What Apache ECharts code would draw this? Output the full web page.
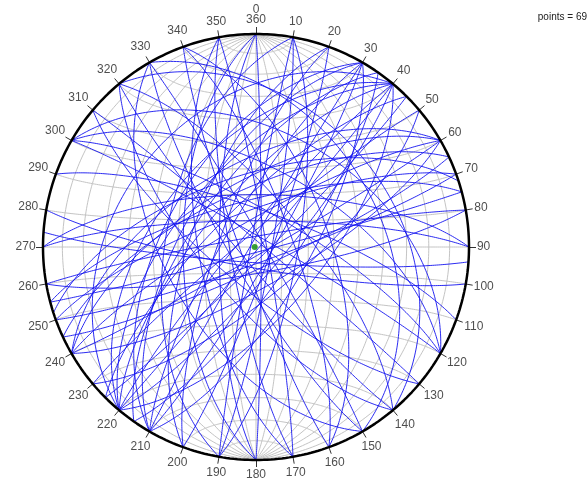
<!DOCTYPE html>
<html>
<head>
<meta charset="utf-8">
<script src="https://cdn.jsdelivr.net/npm/echarts@6/dist/echarts.min.js"></script>
<style>
  html, body { margin: 0; padding: 0; background: #fff; }
  #chart { width: 587px; height: 503px; }
</style>
</head>
<body>
<div id="chart"></div>
<script>
// Planes measured as strike / dip (right-hand rule: dip direction = strike + 90)
const strikes = [30, 30, 210, 210, 210, 210, 35, 215, 40, 40, 40, 220, 220, 220, 220, 220,
  45, 225, 50, 230, 60, 60, 240, 240, 240, 65, 245,
  70, 250, 252, 75, 255, 80, 260, 94, 270, 270,
  100, 290, 300, 300, 300, 300, 130, 310, 140, 320, 320, 140,
  150, 330, 150, 330, 160, 340, 340,
  170, 350, 170, 0, 180, 180, 10, 190, 10, 190, 20, 200, 200];
const dips = [84, 70, 78, 55, 62, 88, 76, 66, 89, 80, 65, 84, 70, 52, 35, 60,
  86, 74, 72, 85, 87, 75, 80, 58, 65, 82, 68,
  84, 76, 62, 88, 72, 80, 86, 84, 80, 70,
  82, 76, 76, 86, 60, 45, 75, 88, 84, 72, 35, 70,
  80, 87, 55, 41, 84, 76, 62,
  80, 86, 68, 88, 76, 62, 84, 88, 74, 55, 84, 76, 65];

// Mean pole of the set (trend, plunge)
const meanPole = { trend: 270, plunge: 89.5 };

// Azimuth labels around the primitive circle
const azimuths = [0, 10, 20, 30, 40, 50, 60, 70, 80, 90, 100, 110, 120, 130, 140, 150, 160, 170,
  180, 190, 200, 210, 220, 230, 240, 250, 260, 270, 280, 290, 300, 310, 320, 330, 340, 350];
const azimuthLabels = ['360', '10', '20', '30', '40', '50', '60', '70', '80', '90', '100', '110',
  '120', '130', '140', '150', '160', '170', '180', '190', '200', '210', '220', '230', '240',
  '250', '260', '270', '280', '290', '300', '310', '320', '330', '340', '350'];
const northLabel = '0';
const countLabel = 'points = ' + strikes.length;

// Geometry of the net on the page
const CX = 256, CY = 247, RAD = 213, SPAN = 1.15;
const D2R = Math.PI / 180;

// Lower-hemisphere equal-area (Schmidt) projection of a line
function projectLine(trend, plunge) {
  const r = Math.SQRT2 * Math.sin((90 - plunge) / 2 * D2R);
  return [r * Math.sin(trend * D2R), r * Math.cos(trend * D2R)];
}
// Project a unit vector given in (north, east, down)
function projectVec(n, e, d) {
  if (d < 0) { n = -n; e = -e; d = -d; }
  const plunge = Math.asin(Math.min(1, d)) / D2R;
  const trend = Math.atan2(e, n) / D2R;
  return projectLine(trend, plunge);
}
function greatCircle(strike, dip) {
  const s = strike * D2R, dd = (strike + 90) * D2R, dp = dip * D2R;
  const sv = [Math.cos(s), Math.sin(s), 0];
  const dv = [Math.cos(dd) * Math.cos(dp), Math.sin(dd) * Math.cos(dp), Math.sin(dp)];
  const pts = [];
  for (let a = 0; a <= 180; a += 1) {
    const c = Math.cos(a * D2R), sn = Math.sin(a * D2R);
    pts.push(projectVec(c * sv[0] + sn * dv[0], c * sv[1] + sn * dv[1], c * sv[2] + sn * dv[2]));
  }
  return pts;
}
// Small circle about a horizontal axis (trend axisTrend) with half-angle alpha
function smallCircle(axisTrend, alpha) {
  const t = axisTrend * D2R, al = alpha * D2R;
  const ax = [Math.cos(t), Math.sin(t), 0];
  const b1 = [-Math.sin(t), Math.cos(t), 0];
  const b2 = [0, 0, 1];
  const pts = [];
  for (let f = 0; f <= 180; f += 1) {
    const cf = Math.cos(f * D2R), sf = Math.sin(f * D2R);
    const v = [0, 1, 2].map(i => Math.cos(al) * ax[i] + Math.sin(al) * (cf * b1[i] + sf * b2[i]));
    pts.push(projectVec(v[0], v[1], Math.max(0, v[2])));
  }
  return pts;
}

// Net: meridians and parallels every 10 degrees
const netLines = [];
for (let d = 10; d <= 90; d += 10) {
  netLines.push({ coords: greatCircle(0, d) });
  if (d < 90) netLines.push({ coords: greatCircle(180, d) });
}
for (let a = 10; a <= 90; a += 10) {
  netLines.push({ coords: smallCircle(0, a) });
  if (a < 90) netLines.push({ coords: smallCircle(180, a) });
}

// Primitive circle
const rim = [];
for (let a = 0; a <= 360; a += 1) rim.push([Math.sin(a * D2R), Math.cos(a * D2R)]);

// Ticks and labels around the rim
const tickLines = azimuths.map(az => ({
  coords: [[Math.sin(az * D2R), Math.cos(az * D2R)],
           [(1 + 7 / RAD) * Math.sin(az * D2R), (1 + 7 / RAD) * Math.cos(az * D2R)]]
}));
function labelPoint(az, text, extra) {
  const w = text.length * 5.6, h = 11;
  const s = Math.sin(az * D2R), c = Math.cos(az * D2R);
  const half = Math.abs(s) * w / 2 + Math.abs(c) * h / 2;
  const r = 1 + (9 + half + (extra || 0)) / RAD;
  return { value: [r * s, r * c], name: text };
}
const labelData = azimuths.map((az, i) => labelPoint(az, azimuthLabels[i]));
labelData.push(labelPoint(0, northLabel, 10));

// Plane traces
const planeLines = strikes.map((s, i) => ({ coords: greatCircle(s, dips[i]) }));

const chart = echarts.init(document.getElementById('chart'), null, { renderer: 'canvas' });
chart.setOption({
  animation: false,
  backgroundColor: '#ffffff',
  grid: { left: CX - RAD * SPAN, top: CY - RAD * SPAN, width: 2 * RAD * SPAN, height: 2 * RAD * SPAN },
  xAxis: { type: 'value', min: -SPAN, max: SPAN, show: false },
  yAxis: { type: 'value', min: -SPAN, max: SPAN, show: false },
  graphic: [{
    type: 'text', right: 0, top: 12,
    style: { text: countLabel, font: '10px "Liberation Sans", Arial, sans-serif', fill: '#222' }
  }],
  series: [
    {
      type: 'lines', coordinateSystem: 'cartesian2d', polyline: true, silent: true,
      lineStyle: { color: '#c4c4c4', width: 1, opacity: 1 },
      data: netLines
    },
    {
      type: 'lines', coordinateSystem: 'cartesian2d', polyline: true, silent: true,
      lineStyle: { color: '#1414f0', width: 1, opacity: 0.9 },
      data: planeLines
    },
    {
      type: 'line', data: rim, showSymbol: false, silent: true, clip: false,
      lineStyle: { color: '#000', width: 2.5 }
    },
    {
      type: 'lines', coordinateSystem: 'cartesian2d', silent: true,
      lineStyle: { color: '#333', width: 1, opacity: 1 },
      data: tickLines
    },
    {
      type: 'scatter', data: labelData, symbolSize: 1, silent: true, clip: false,
      itemStyle: { color: 'rgba(0,0,0,0)' },
      label: {
        show: true, position: 'inside', formatter: p => p.name,
        font: '10px "Liberation Sans", Arial, sans-serif', color: '#222'
      }
    },
    {
      type: 'scatter', data: [projectLine(meanPole.trend, meanPole.plunge)],
      symbolSize: 6, silent: true,
      itemStyle: { color: '#0a8a0a' }
    }
  ]
});
</script>
</body>
</html>
